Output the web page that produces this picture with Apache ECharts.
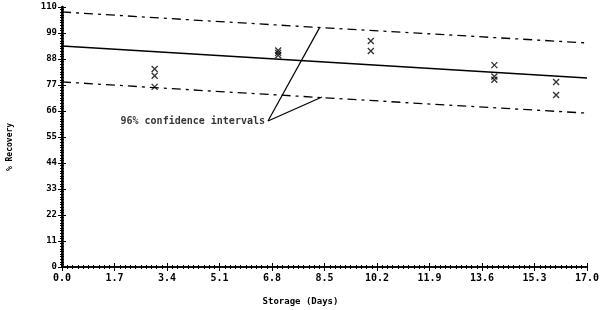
<!DOCTYPE html>
<html>
<head>
<meta charset="utf-8">
<script src="https://cdn.jsdelivr.net/npm/echarts@6/dist/echarts.min.js"></script>
<style>
  html, body { margin: 0; padding: 0; background: #fff; }
  #chart { width: 600px; height: 310px; }
</style>
</head>
<body>
<div id="chart"></div>
<script>
// observed recovery (days, %)
const obsDays = [3.0, 3.0, 3.0, 7.0, 7.0, 7.0, 10.0, 10.0, 14.0, 14.0, 14.0, 16.0, 16.0]
const obsRecovery = [83.8, 80.9, 76.2, 91.6, 90.6, 89.6, 95.6, 91.4, 85.4, 80.6, 79.2, 78.3, 72.8]

// fitted line and 95% bands
const fitDays = [0, 17]
const fitRecovery = [93.5, 80.0]
const bandDays = [0, 4.25, 8.5, 12.75, 17]
const upperBand = [107.9, 104.5, 101.2, 98.0, 94.8]
const lowerBand = [78.3, 74.9, 71.6, 68.3, 65.1]

// annotation pointers
const noteText = '96% confidence intervals'
const noteAnchor = [6.67, 61.8]
const noteTargets = [[8.35, 101.5], [8.42, 71.9]]

const xTicks = ['0.0', '1.7', '3.4', '5.1', '6.8', '8.5', '10.2', '11.9', '13.6', '15.3', '17.0']
const yTicks = [0, 11, 22, 33, 44, 55, 66, 77, 88, 99, 110]

const font = 'DejaVu Sans Mono'
const zip = (xs, ys) => xs.map((x, i) => [x, ys[i]])

const chart = echarts.init(document.getElementById('chart'))

const axisCommon = {
  type: 'value',
  axisLine: { show: true, lineStyle: { color: '#000', width: 1.5 } },
  axisTick: { show: true, inside: true, length: 4, lineStyle: { color: '#000' } },
  minorTick: { show: true, splitNumber: 10, length: 2, lineStyle: { color: '#000' } },
  splitLine: { show: false }
}

const option = {
  animation: false,
  grid: { left: 62, right: 13, top: 7, bottom: 43, outerBoundsMode: 'none' },
  xAxis: [
    {
      ...axisCommon,
      min: 0, max: 17, interval: 1.7,
      name: 'Storage (Days)',
      nameLocation: 'middle',
      nameGap: 30,
      nameTextStyle: { fontFamily: font, fontWeight: 'bold', fontSize: 9, color: '#000', padding: [0, 48, 0, 0] },
      axisLabel: {
        fontFamily: font, fontWeight: 'bold', fontSize: 10, color: '#000', margin: 6,
        formatter: (v) => xTicks[Math.round(v / 1.7)]
      }
    },
    {
      ...axisCommon,
      position: 'top',
      min: 0, max: 17, interval: 1.7,
      axisLabel: { show: false }
    }
  ],
  yAxis: [
    {
      ...axisCommon,
      min: 0, max: 110, interval: 11,
      name: '% Recovery',
      nameLocation: 'middle',
      nameGap: 48,
      nameTextStyle: { fontFamily: font, fontWeight: 'bold', fontSize: 8, color: '#000', padding: [0, 20, 0, 0] },
      axisLabel: {
        fontFamily: font, fontWeight: 'bold', fontSize: 9, color: '#000', margin: 5,
        formatter: (v) => String(yTicks[Math.round(v / 11)])
      }
    },
    {
      ...axisCommon,
      position: 'right',
      min: 0, max: 110, interval: 11,
      axisLine: { show: true, lineStyle: { color: '#000', width: 2.5 } },
      axisLabel: { show: false }
    }
  ],
  series: [
    {
      type: 'line',
      data: zip(fitDays, fitRecovery),
      symbol: 'none',
      lineStyle: { color: '#000', width: 1.5 }
    },
    {
      type: 'line',
      data: zip(bandDays, upperBand),
      symbol: 'none',
      lineStyle: { color: '#000', width: 1.3, type: [9, 5, 3, 5] }
    },
    {
      type: 'line',
      data: zip(bandDays, lowerBand),
      symbol: 'none',
      lineStyle: { color: '#000', width: 1.3, type: [9, 5, 3, 5] }
    },
    ...noteTargets.map((t) => ({
      type: 'line',
      data: [noteAnchor, t],
      symbol: 'none',
      lineStyle: { color: '#000', width: 1.2 }
    })),
    {
      type: 'scatter',
      data: [noteAnchor],
      symbolSize: 0,
      label: {
        show: true,
        position: 'left',
        distance: 3,
        formatter: noteText,
        fontFamily: font, fontWeight: 'bold', fontSize: 10, color: '#000'
      }
    },
    {
      type: 'scatter',
      data: zip(obsDays, obsRecovery),
      symbol: 'path://M0,0L10,10M10,0L0,10',
      symbolSize: 6,
      itemStyle: { color: 'none', borderColor: '#000', borderWidth: 1.3 }
    }
  ]
}

chart.setOption(option)
</script>
</body>
</html>
